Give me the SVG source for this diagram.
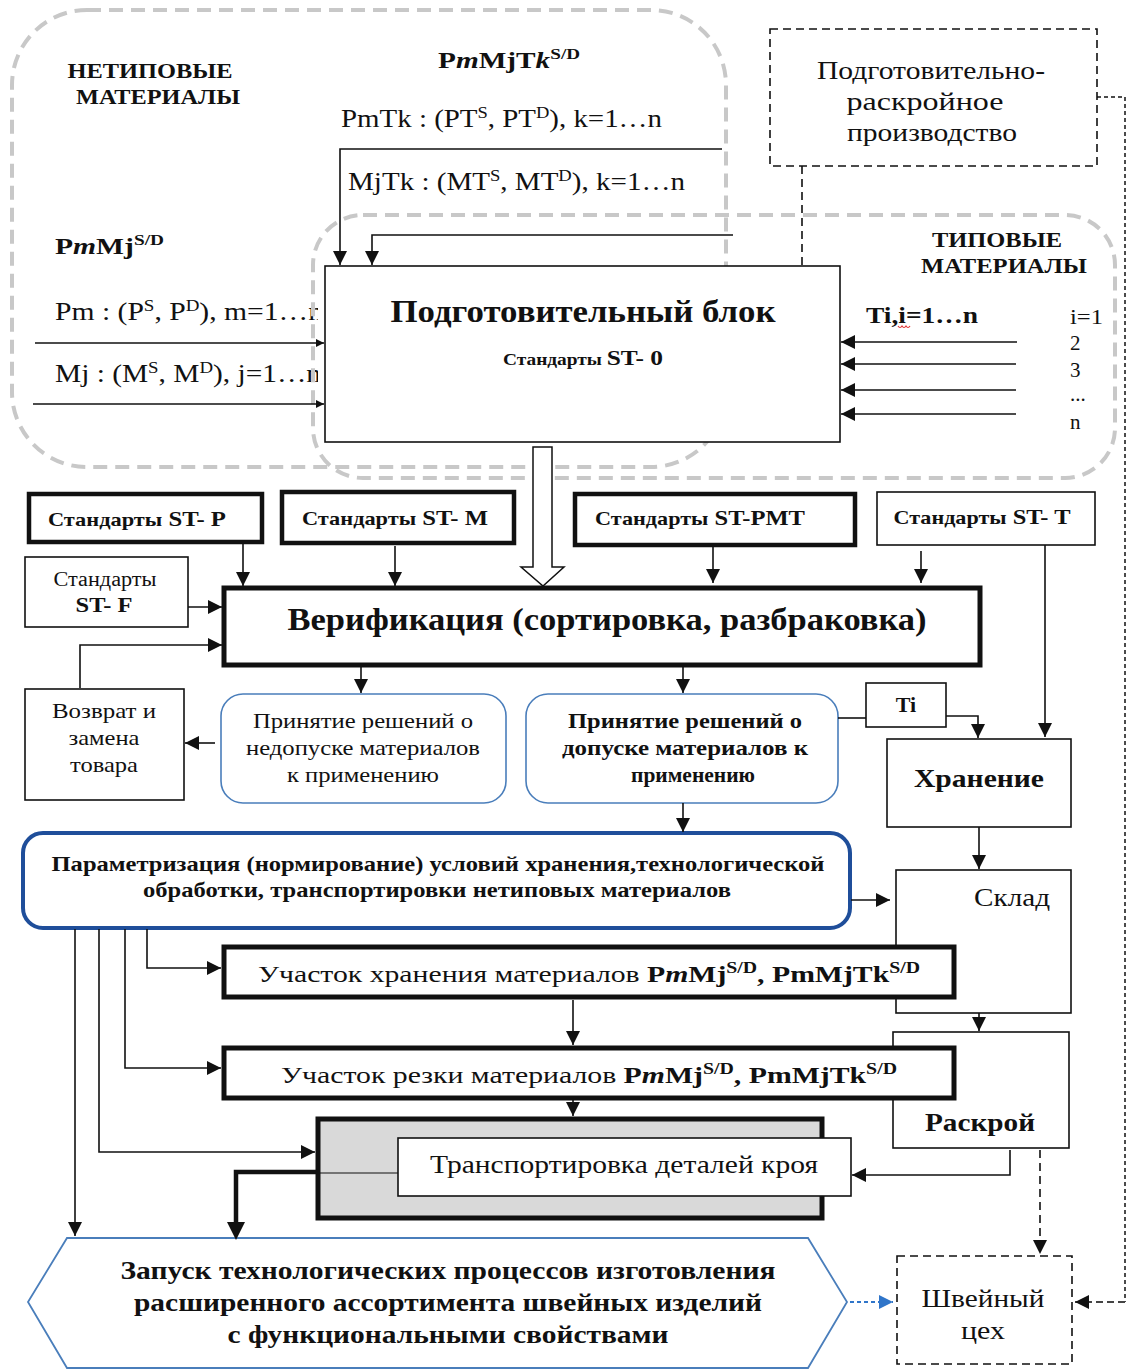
<svg xmlns="http://www.w3.org/2000/svg" width="1127" height="1369" viewBox="0 0 1127 1369">
<style>
text{font-family:"Liberation Serif","Times New Roman",serif;fill:#111}
.b{font-weight:bold}
.box{fill:#fff;stroke:#111;stroke-width:1.6}
.thick{fill:#fff;stroke:#111;stroke-width:4.5}
.ln{fill:none;stroke:#111;stroke-width:1.6}
.gray{fill:none;stroke:#c8c8c8;stroke-width:4;stroke-dasharray:14 8}
.dash{fill:none;stroke:#111;stroke-width:1.6;stroke-dasharray:8 5}
.blue{fill:#fff;stroke:#4a7ebb;stroke-width:1.6}
</style>
<defs>
<marker id="ah" viewBox="0 0 10 10" refX="10" refY="5" markerWidth="8" markerHeight="8" markerUnits="userSpaceOnUse" orient="auto"><path d="M0,0L10,5L0,10z" fill="#111"/></marker>
<marker id="ahb" viewBox="0 0 10 10" refX="10" refY="5" markerWidth="14" markerHeight="14" markerUnits="userSpaceOnUse" orient="auto"><path d="M0,0L10,5L0,10z" fill="#111"/></marker>
<marker id="ahL" viewBox="0 0 10 10" refX="10" refY="5" markerWidth="14" markerHeight="14" markerUnits="userSpaceOnUse" orient="auto"><path d="M0,0L10,5L0,10z" fill="#111"/></marker>
<marker id="ahBlue" viewBox="0 0 10 10" refX="10" refY="5" markerWidth="14" markerHeight="14" markerUnits="userSpaceOnUse" orient="auto"><path d="M0,0L10,5L0,10z" fill="#2f75c9"/></marker>
<clipPath id="clipL"><rect x="0" y="280" width="318" height="130"/></clipPath>
</defs>

<!-- group outlines -->
<g id="netipovye-group">
<rect class="gray" x="12" y="10" width="714" height="457" rx="75" ry="75"/>
<text class="b" x="150" y="78" font-size="21" text-anchor="middle" textLength="165" lengthAdjust="spacingAndGlyphs">НЕТИПОВЫЕ</text>
<text class="b" x="158" y="104" font-size="21" text-anchor="middle" textLength="164" lengthAdjust="spacingAndGlyphs">МАТЕРИАЛЫ</text>
<text class="b" x="438" y="68" font-size="23" textLength="142" lengthAdjust="spacingAndGlyphs">P<tspan font-style="italic">m</tspan>MjT<tspan font-style="italic">k</tspan><tspan dy="-9" font-size="15">S/D</tspan></text>
<text x="341" y="127" font-size="25" textLength="321" lengthAdjust="spacingAndGlyphs">PmTk : (PT<tspan dy="-9" font-size="16">S</tspan><tspan dy="9">, PT</tspan><tspan dy="-9" font-size="16">D</tspan><tspan dy="9">), k=1…n</tspan></text>
<text x="348" y="190" font-size="25" textLength="337" lengthAdjust="spacingAndGlyphs">MjTk : (MT<tspan dy="-9" font-size="16">S</tspan><tspan dy="9">, MT</tspan><tspan dy="-9" font-size="16">D</tspan><tspan dy="9">), k=1…n</tspan></text>
<text class="b" x="55" y="254" font-size="23" textLength="109" lengthAdjust="spacingAndGlyphs">P<tspan font-style="italic">m</tspan>Mj<tspan dy="-9" font-size="15">S/D</tspan></text>
<g clip-path="url(#clipL)">
<text x="55" y="320" font-size="25" textLength="268" lengthAdjust="spacingAndGlyphs">Pm : (P<tspan dy="-9" font-size="16">S</tspan><tspan dy="9">, P</tspan><tspan dy="-9" font-size="16">D</tspan><tspan dy="9">), m=1…n</tspan></text>
<text x="55" y="382" font-size="25" textLength="266" lengthAdjust="spacingAndGlyphs">Mj : (M<tspan dy="-9" font-size="16">S</tspan><tspan dy="9">, M</tspan><tspan dy="-9" font-size="16">D</tspan><tspan dy="9">), j=1…n</tspan></text>
</g>
</g>
<g id="tipovye-group">
<rect class="gray" x="313" y="215" width="802" height="263" rx="50" ry="50"/>
<text class="b" x="997" y="247" font-size="21" text-anchor="middle" textLength="130" lengthAdjust="spacingAndGlyphs">ТИПОВЫЕ</text>
<text class="b" x="1004" y="273" font-size="21" text-anchor="middle" textLength="166" lengthAdjust="spacingAndGlyphs">МАТЕРИАЛЫ</text>
<text class="b" x="866" y="323" font-size="24" textLength="112" lengthAdjust="spacingAndGlyphs">Ti,i=1…n</text>
<path d="M898,326 q2,3 4,0 q2,3 4,0 q2,3 4,0" fill="none" stroke="#e03030" stroke-width="1.2"/>
<text x="1070" y="324" font-size="21" textLength="33" lengthAdjust="spacingAndGlyphs">i=1</text>
<text x="1070" y="350" font-size="21">2</text>
<text x="1070" y="377" font-size="21">3</text>
<text x="1070" y="401" font-size="21">...</text>
<text x="1070" y="429" font-size="21">n</text>
</g>

<!-- nodes -->
<g id="prod-cut">
<rect class="dash" x="770" y="29" width="327" height="137"/>
<text x="931" y="79" font-size="25" text-anchor="middle" textLength="228" lengthAdjust="spacingAndGlyphs">Подготовительно-</text>
<text x="925" y="110" font-size="25" text-anchor="middle" textLength="157" lengthAdjust="spacingAndGlyphs">раскройное</text>
<text x="932" y="141" font-size="25" text-anchor="middle" textLength="170" lengthAdjust="spacingAndGlyphs">производство</text>
</g>

<g id="prep-block">
<rect class="box" x="325" y="266" width="515" height="176"/>
<text class="b" x="583" y="322" font-size="31" text-anchor="middle" textLength="385" lengthAdjust="spacingAndGlyphs">Подготовительный блок</text>
<text class="b" x="583" y="365" text-anchor="middle" textLength="160" lengthAdjust="spacingAndGlyphs"><tspan font-size="16">Стандарты </tspan><tspan font-size="21">ST- 0</tspan></text>
</g>

<g id="st-p">
<rect class="thick" x="29" y="494" width="233" height="48"/>
<text class="b" x="137" y="526" font-size="21" text-anchor="middle" textLength="178" lengthAdjust="spacingAndGlyphs"><tspan font-size="19">Стандарты</tspan> ST- P</text>
</g>
<g id="st-m">
<rect class="thick" x="282" y="492" width="232" height="51"/>
<text class="b" x="395" y="525" font-size="21" text-anchor="middle" textLength="186" lengthAdjust="spacingAndGlyphs"><tspan font-size="19">Стандарты</tspan> ST- M</text>
</g>
<g id="st-pmt">
<rect class="thick" x="575" y="494" width="280" height="51"/>
<text class="b" x="700" y="525" font-size="21" text-anchor="middle" textLength="210" lengthAdjust="spacingAndGlyphs"><tspan font-size="19">Стандарты</tspan> ST-PMT</text>
</g>
<g id="st-t">
<rect class="box" x="877" y="492" width="218" height="53"/>
<text class="b" x="982" y="524" font-size="21" text-anchor="middle" textLength="177" lengthAdjust="spacingAndGlyphs"><tspan font-size="19">Стандарты</tspan> ST- T</text>
</g>
<g id="st-f">
<rect class="box" x="25" y="557" width="163" height="70"/>
<text x="105" y="586" font-size="20" text-anchor="middle" textLength="103" lengthAdjust="spacingAndGlyphs">Стандарты</text>
<text class="b" x="104" y="612" font-size="22" text-anchor="middle" textLength="57" lengthAdjust="spacingAndGlyphs">ST- F</text>
</g>

<g id="verification">
<rect x="224" y="588" width="756" height="77" fill="#fff" stroke="#111" stroke-width="5"/>
<text class="b" x="607" y="630" font-size="31" text-anchor="middle" textLength="639" lengthAdjust="spacingAndGlyphs">Верификация (сортировка, разбраковка)</text>
</g>

<g id="vozvrat">
<rect class="box" x="25" y="689" width="159" height="111"/>
<text x="104" y="718" font-size="21" text-anchor="middle" textLength="104" lengthAdjust="spacingAndGlyphs">Возврат и</text>
<text x="104" y="745" font-size="21" text-anchor="middle" textLength="71" lengthAdjust="spacingAndGlyphs">замена</text>
<text x="104" y="772" font-size="21" text-anchor="middle" textLength="68" lengthAdjust="spacingAndGlyphs">товара</text>
</g>

<g id="reject">
<rect class="blue" x="221" y="694" width="285" height="109" rx="22" ry="22"/>
<text x="363" y="728" font-size="21" text-anchor="middle" textLength="220" lengthAdjust="spacingAndGlyphs">Принятие решений о</text>
<text x="363" y="755" font-size="21" text-anchor="middle" textLength="234" lengthAdjust="spacingAndGlyphs">недопуске материалов</text>
<text x="363" y="782" font-size="21" text-anchor="middle" textLength="152" lengthAdjust="spacingAndGlyphs">к применению</text>
</g>

<g id="accept">
<rect class="blue" x="526" y="694" width="312" height="109" rx="22" ry="22"/>
<text class="b" x="685" y="728" font-size="21" text-anchor="middle" textLength="234" lengthAdjust="spacingAndGlyphs">Принятие решений о</text>
<text class="b" x="685" y="755" font-size="21" text-anchor="middle" textLength="246" lengthAdjust="spacingAndGlyphs">допуске материалов к</text>
<text class="b" x="693" y="782" font-size="21" text-anchor="middle" textLength="124" lengthAdjust="spacingAndGlyphs">применению</text>
</g>

<g id="ti">
<rect class="box" x="866" y="683" width="80" height="44"/>
<text class="b" x="906" y="712" font-size="22" text-anchor="middle">Ti</text>
</g>

<g id="hranenie">
<rect class="box" x="887" y="739" width="184" height="88"/>
<text class="b" x="979" y="787" font-size="26" text-anchor="middle" textLength="130" lengthAdjust="spacingAndGlyphs">Хранение</text>
</g>

<g id="sklad">
<rect class="box" x="896" y="870" width="175" height="143"/>
<text x="1012" y="906" font-size="25" text-anchor="middle" textLength="76" lengthAdjust="spacingAndGlyphs">Склад</text>
</g>

<g id="raskroy">
<rect class="box" x="893" y="1032" width="176" height="116"/>
<text class="b" x="980" y="1131" font-size="26" text-anchor="middle" textLength="110" lengthAdjust="spacingAndGlyphs">Раскрой</text>
</g>

<g id="param">
<rect x="23" y="833" width="827" height="95" rx="20" ry="20" fill="#fff" stroke="#1f4e9a" stroke-width="4"/>
<text class="b" x="438" y="871" font-size="21" text-anchor="middle" textLength="773" lengthAdjust="spacingAndGlyphs">Параметризация (нормирование) условий хранения,технологической</text>
<text class="b" x="437" y="897" font-size="21" text-anchor="middle" textLength="588" lengthAdjust="spacingAndGlyphs">обработки, транспортировки нетиповых материалов</text>
</g>

<g id="uch-hran">
<rect x="224" y="947" width="730" height="50" fill="#fff" stroke="#111" stroke-width="5"/>
<text x="258" y="982" font-size="24" textLength="662" lengthAdjust="spacingAndGlyphs">Участок хранения материалов  <tspan class="b">P<tspan font-style="italic">m</tspan>Mj</tspan><tspan class="b" dy="-9" font-size="16">S/D</tspan><tspan class="b" dy="9">, PmMjTk</tspan><tspan class="b" dy="-9" font-size="16">S/D</tspan></text>
</g>

<g id="uch-rez">
<rect x="224" y="1048" width="730" height="50" fill="#fff" stroke="#111" stroke-width="5"/>
<text x="281" y="1083" font-size="24" textLength="616" lengthAdjust="spacingAndGlyphs">Участок резки материалов  <tspan class="b">P<tspan font-style="italic">m</tspan>Mj</tspan><tspan class="b" dy="-9" font-size="16">S/D</tspan><tspan class="b" dy="9">, PmMjTk</tspan><tspan class="b" dy="-9" font-size="16">S/D</tspan></text>
</g>

<g id="transport">
<rect x="318" y="1119" width="504" height="99" fill="#d9d9d9" stroke="#111" stroke-width="5"/>
<line x1="320" y1="1173" x2="398" y2="1173" stroke="#111" stroke-width="1.2"/>
<rect class="box" x="398" y="1138" width="453" height="58"/>
<text x="624" y="1173" font-size="25" text-anchor="middle" textLength="388" lengthAdjust="spacingAndGlyphs">Транспортировка деталей кроя</text>
</g>

<g id="zapusk">
<polygon points="28,1302 67,1238 808,1238 847,1302 808,1368 67,1368" fill="#fff" stroke="#4a7ebb" stroke-width="1.8"/>
<text class="b" x="448" y="1279" font-size="26" text-anchor="middle" textLength="655" lengthAdjust="spacingAndGlyphs">Запуск технологических процессов изготовления</text>
<text class="b" x="448" y="1311" font-size="26" text-anchor="middle" textLength="628" lengthAdjust="spacingAndGlyphs">расширенного ассортимента швейных изделий</text>
<text class="b" x="448" y="1343" font-size="26" text-anchor="middle" textLength="441" lengthAdjust="spacingAndGlyphs">с функциональными свойствами</text>
</g>

<g id="shveyny">
<rect class="dash" x="897" y="1256" width="175" height="108"/>
<text x="983" y="1307" font-size="26" text-anchor="middle" textLength="123" lengthAdjust="spacingAndGlyphs">Швейный</text>
<text x="983" y="1339" font-size="26" text-anchor="middle" textLength="44" lengthAdjust="spacingAndGlyphs">цех</text>
</g>

<!-- connectors -->
<g id="connectors">
<path class="ln" d="M722,149 H340 V265" marker-end="url(#ahb)"/>
<path class="ln" d="M733,235 H372 V265" marker-end="url(#ahb)"/>
<path class="ln" d="M35,343 H324" marker-end="url(#ah)"/>
<path class="ln" d="M33,404 H324" marker-end="url(#ah)"/>
<path class="ln" d="M1017,342 H841" marker-end="url(#ahL)"/>
<path class="ln" d="M1016,364 H841" marker-end="url(#ahL)"/>
<path class="ln" d="M1016,390 H841" marker-end="url(#ahL)"/>
<path class="ln" d="M1016,414 H841" marker-end="url(#ahL)"/>
<path class="dash" d="M802,166 V265"/>
<path fill="none" stroke="#111" stroke-width="1.5" stroke-dasharray="4 3" d="M1097,97 H1125 V1302"/>
<path fill="none" stroke="#444" stroke-width="2" stroke-dasharray="7 4" d="M1125,1302 H1075" marker-end="url(#ahL)"/>
<!-- hollow arrow -->
<path d="M533,447 H552 V567 H564 L543,586 L521,567 H533 Z" fill="#fff" stroke="#111" stroke-width="1.5"/>
<path class="ln" d="M243,544 V586" marker-end="url(#ahb)"/>
<path class="ln" d="M395,546 V586" marker-end="url(#ahb)"/>
<path class="ln" d="M713,547 V583" marker-end="url(#ahb)"/>
<path class="ln" d="M921,551 V583" marker-end="url(#ahb)"/>
<path class="ln" d="M1045,545 V737" marker-end="url(#ahb)"/>
<path class="ln" d="M188,607 H222" marker-end="url(#ahb)"/>
<path class="ln" d="M80,688 V645 H222" marker-end="url(#ahb)"/>
<path class="ln" d="M361,667 V693" marker-end="url(#ahb)"/>
<path class="ln" d="M683,667 V693" marker-end="url(#ahb)"/>
<path class="ln" d="M215,743 H185" marker-end="url(#ahb)"/>
<path class="ln" d="M838,718 H866"/>
<path class="ln" d="M946,716 H978 V738" marker-end="url(#ahb)"/>
<path class="ln" d="M683,803 V832" marker-end="url(#ahb)"/>
<path class="ln" d="M979,827 V869" marker-end="url(#ahb)"/>
<path class="ln" d="M851,900 H890" marker-end="url(#ahb)"/>
<path class="ln" d="M979,1013 V1031" marker-end="url(#ahb)"/>
<path class="ln" d="M573,1000 V1045" marker-end="url(#ahb)"/>
<path class="ln" d="M573,1100 V1116" marker-end="url(#ahb)"/>
<path class="ln" d="M147,929 V968 H221" marker-end="url(#ahb)"/>
<path class="ln" d="M125,929 V1068 H221" marker-end="url(#ahb)"/>
<path class="ln" d="M99,929 V1152 H315" marker-end="url(#ahb)"/>
<path class="ln" d="M75,929 V1236" marker-end="url(#ahb)"/>
<path fill="none" stroke="#111" stroke-width="4.5" d="M318,1172 H236 V1225"/>
<path d="M227,1222 L245,1222 L236,1240 Z" fill="#111"/>
<path class="ln" d="M1010,1150 V1175 H852" marker-end="url(#ahb)"/>
<path class="dash" d="M1040,1150 V1254" marker-end="url(#ahb)"/>
<path fill="none" stroke="#2f75c9" stroke-width="2" stroke-dasharray="4 3" d="M850,1302 H893" marker-end="url(#ahBlue)"/>
</g>
</svg>
